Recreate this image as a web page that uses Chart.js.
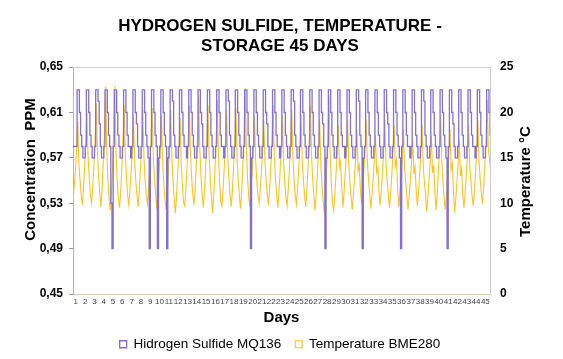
<!DOCTYPE html>
<html>
<head>
<meta charset="utf-8">
<title>Hydrogen sulfide, temperature - storage 45 days</title>
<script src="https://cdn.jsdelivr.net/npm/chart.js@4.4.1/dist/chart.umd.min.js"></script>
<style>
  html, body { margin: 0; padding: 0; background: #fff; }
  #wrap { width: 563px; height: 359px; }
</style>
</head>
<body>
<div id="wrap"><canvas id="chart"></canvas></div>
<script>
// day labels on the x axis
const days = [1,2,3,4,5,6,7,8,9,10,11,12,13,14,15,16,17,18,19,20,21,22,23,24,25,26,27,28,29,30,31,32,33,34,35,36,37,38,39,40,41,42,43,44,45];
const ppmTicks  = [0.45, 0.49, 0.53, 0.57, 0.61, 0.65];
const tempTicks = [0, 5, 10, 15, 20, 25];

// readings, 8 per day (one line = one day)
const h2s = [
  0.58,0.58,0.58,0.58,0.63,0.63,0.61,0.59,
  0.58,0.57,0.57,0.58,0.63,0.63,0.61,0.59,
  0.58,0.57,0.57,0.58,0.63,0.63,0.62,0.60,
  0.58,0.57,0.57,0.58,0.63,0.63,0.61,0.59,
  0.58,0.53,0.49,0.58,0.63,0.63,0.61,0.59,
  0.58,0.57,0.57,0.58,0.63,0.63,0.61,0.59,
  0.58,0.58,0.57,0.58,0.63,0.63,0.61,0.60,
  0.58,0.57,0.57,0.58,0.63,0.63,0.61,0.59,
  0.58,0.57,0.49,0.58,0.63,0.63,0.61,0.59,
  0.58,0.49,0.57,0.58,0.63,0.63,0.61,0.59,
  0.58,0.49,0.57,0.58,0.63,0.63,0.62,0.59,
  0.58,0.57,0.57,0.58,0.63,0.63,0.61,0.59,
  0.58,0.58,0.57,0.58,0.63,0.63,0.61,0.59,
  0.58,0.57,0.57,0.58,0.63,0.63,0.61,0.60,
  0.58,0.57,0.57,0.58,0.63,0.63,0.61,0.59,
  0.58,0.57,0.57,0.58,0.63,0.63,0.61,0.59,
  0.58,0.58,0.57,0.58,0.63,0.63,0.62,0.59,
  0.58,0.57,0.57,0.58,0.63,0.63,0.61,0.59,
  0.58,0.57,0.57,0.58,0.63,0.63,0.61,0.59,
  0.58,0.49,0.57,0.58,0.63,0.63,0.61,0.59,
  0.58,0.57,0.57,0.58,0.63,0.63,0.61,0.60,
  0.58,0.57,0.57,0.58,0.63,0.63,0.61,0.59,
  0.58,0.58,0.57,0.58,0.63,0.63,0.61,0.59,
  0.58,0.57,0.57,0.58,0.63,0.63,0.62,0.59,
  0.58,0.57,0.57,0.58,0.63,0.63,0.61,0.59,
  0.58,0.57,0.57,0.58,0.63,0.63,0.61,0.59,
  0.58,0.57,0.57,0.58,0.63,0.63,0.61,0.60,
  0.58,0.49,0.57,0.58,0.63,0.63,0.61,0.59,
  0.58,0.57,0.57,0.58,0.63,0.63,0.61,0.59,
  0.58,0.58,0.57,0.58,0.63,0.63,0.61,0.59,
  0.58,0.57,0.57,0.58,0.63,0.63,0.62,0.59,
  0.58,0.49,0.57,0.58,0.63,0.63,0.61,0.59,
  0.58,0.57,0.57,0.58,0.63,0.63,0.61,0.59,
  0.58,0.57,0.57,0.58,0.63,0.63,0.61,0.60,
  0.58,0.57,0.57,0.58,0.63,0.63,0.61,0.59,
  0.58,0.57,0.49,0.58,0.63,0.63,0.61,0.59,
  0.58,0.58,0.57,0.58,0.63,0.63,0.61,0.59,
  0.58,0.57,0.57,0.58,0.63,0.63,0.62,0.59,
  0.58,0.57,0.57,0.58,0.63,0.63,0.61,0.59,
  0.58,0.57,0.57,0.58,0.63,0.63,0.61,0.59,
  0.58,0.57,0.49,0.58,0.63,0.63,0.61,0.60,
  0.58,0.57,0.57,0.58,0.63,0.63,0.61,0.59,
  0.58,0.57,0.57,0.58,0.63,0.63,0.61,0.59,
  0.58,0.58,0.57,0.58,0.63,0.63,0.61,0.59,
  0.58,0.57,0.57,0.58,0.63,0.63,0.61,0.59
];

const temp = [
  10.2,11.8,13.5,15.8,19.0,14.5,12.6,11.0,
  9.8,11.6,14.0,16.5,20.0,15.0,12.8,10.9,
  10.0,11.9,14.2,17.0,21.0,15.8,13.0,11.2,
  9.6,11.5,14.5,17.5,22.8,16.0,12.5,10.6,
  9.2,11.0,14.0,17.8,22.9,15.5,12.4,10.5,
  9.5,11.3,13.9,16.8,20.8,15.2,12.7,10.8,
  9.8,11.5,13.6,16.0,19.6,14.6,12.4,10.9,
  9.6,11.4,13.8,16.4,20.3,15.0,12.6,10.8,
  9.9,11.7,14.0,16.6,20.5,15.1,12.8,11.0,
  9.4,11.2,13.5,16.0,19.7,14.7,12.3,10.5,
  9.3,11.1,13.6,16.3,20.3,15.0,12.4,10.4,
  8.9,10.8,13.2,15.8,19.4,14.4,12.0,10.1,
  9.7,11.5,14.0,16.9,20.8,15.4,12.8,10.9,
  9.8,11.7,14.3,17.3,21.9,16.0,13.0,11.0,
  9.5,11.3,13.9,16.8,20.8,15.3,12.6,10.7,
  8.9,10.9,13.6,16.9,21.4,15.5,12.3,10.2,
  9.7,11.5,13.9,16.5,20.3,15.0,12.7,10.9,
  9.6,11.4,13.9,16.6,20.5,15.1,12.6,10.8,
  9.4,11.3,14.2,17.6,22.7,16.2,12.8,10.7,
  9.6,11.3,13.6,16.1,19.7,14.7,12.4,10.8,
  10.0,11.6,13.6,15.9,19.2,14.5,12.5,11.0,
  9.8,11.6,14.0,16.8,20.8,15.3,12.8,11.0,
  9.5,11.2,13.5,16.0,19.7,14.6,12.3,10.6,
  9.7,11.5,13.8,16.4,20.3,15.0,12.6,10.9,
  9.9,11.6,13.8,16.2,19.7,14.8,12.6,11.0,
  9.6,11.4,13.9,16.8,20.8,15.3,12.7,10.8,
  9.2,10.9,13.2,15.7,19.2,14.3,12.0,10.3,
  8.8,10.8,13.6,16.9,21.9,15.6,12.2,10.0,
  9.2,10.8,13.0,15.3,18.6,14.0,14.6,11.8,
  9.6,11.3,13.4,15.8,19.2,14.4,12.3,10.7,
  9.3,10.9,12.9,15.0,18.1,13.6,14.2,11.5,
  10.0,11.6,13.6,15.9,19.2,14.5,12.6,11.1,
  9.4,10.9,12.8,14.8,17.5,13.4,13.9,11.2,
  9.8,11.4,13.4,15.8,19.2,14.5,12.5,10.9,
  9.5,11.1,13.1,15.4,18.6,14.1,14.8,11.6,
  9.6,11.1,13.0,15.1,18.1,13.8,12.3,10.7,
  9.3,10.8,12.6,14.5,17.0,13.2,14.0,11.3,
  9.7,11.3,13.3,15.5,18.6,14.1,12.4,10.9,
  9.1,10.6,12.5,14.6,17.5,13.3,14.2,11.2,
  9.2,11.0,13.4,16.0,19.7,14.6,12.2,10.4,
  9.3,10.9,12.9,15.0,18.1,13.7,14.4,11.4,
  9.0,10.5,12.4,14.4,17.0,13.0,13.8,11.0,
  9.5,11.1,13.1,15.4,18.6,14.1,12.4,10.8,
  9.7,11.3,13.4,15.8,19.2,14.5,12.6,11.0,
  9.9,11.8,14.2,17.0,21.4,16.0,14.8,13.5
];

const PER_DAY = 8;
const X_START = 0.7;   // first reading sits a bit before the "1" label
const X_END   = 45.5;

function toPoints(arr) {
  return arr.map(function(v, i) { return { x: X_START + i / PER_DAY, y: v }; });
}

Chart.defaults.font.family = "'Liberation Sans', Arial, sans-serif";
Chart.defaults.color = '#000';

// frame top + rotated axis titles (right one reads bottom-to-top like the original)
const decor = {
  id: 'decor',
  beforeDatasetsDraw: function(chart) {
    const a = chart.chartArea, ctx = chart.ctx;
    ctx.save();
    ctx.strokeStyle = '#cfcfcf';
    ctx.lineWidth = 1;
    ctx.beginPath();
    ctx.moveTo(a.left, a.top + 0.5);
    ctx.lineTo(a.right, a.top + 0.5);
    ctx.stroke();
    ctx.restore();
  },
  afterDraw: function(chart) {
    const a = chart.chartArea, ctx = chart.ctx;
    const midY = (a.top + a.bottom) / 2;
    ctx.save();
    ctx.fillStyle = '#000';
    ctx.font = "bold 15px 'Liberation Sans', Arial, sans-serif";
    ctx.textAlign = 'center';
    ctx.textBaseline = 'middle';

    ctx.save();
    ctx.translate(a.left - 42, midY - 11);
    ctx.rotate(-Math.PI / 2);
    ctx.fillText('Concentration  PPM', 0, 0);
    ctx.restore();

    ctx.save();
    ctx.translate(a.right + 36, midY + 1);
    ctx.rotate(-Math.PI / 2);
    ctx.fillText('Temperature °C', 0, 0);
    ctx.restore();

    ctx.restore();
  }
};

new Chart(document.getElementById('chart'), {
  type: 'line',
  data: {
    datasets: [
      {
        label: 'Hidrogen Sulfide MQ136',
        data: toPoints(h2s),
        yAxisID: 'y',
        borderColor: 'rgb(132,114,205)',
        backgroundColor: '#fff',
        borderWidth: 1.3,
        pointRadius: 0,
        stepped: 'middle',
        fill: false
      },
      {
        label: 'Temperature BME280',
        data: toPoints(temp),
        yAxisID: 'y1',
        borderColor: 'rgb(255,195,35)',
        backgroundColor: '#fff',
        borderWidth: 1.1,
        pointRadius: 0,
        tension: 0,
        fill: false
      }
    ]
  },
  options: {
    responsive: true,
    maintainAspectRatio: false,
    animation: false,
    devicePixelRatio: 1,
    layout: { padding: { left: 0, right: 3, top: 0, bottom: -2 } },
    plugins: {
      tooltip: { enabled: false },
      title: {
        display: true,
        text: ['HYDROGEN SULFIDE, TEMPERATURE -', 'STORAGE 45 DAYS'],
        font: { size: 17, weight: 'bold', lineHeight: 1.15 },
        color: '#000',
        padding: { top: 17, bottom: 11 }
      },
      legend: {
        position: 'bottom',
        labels: {
          boxWidth: 7,
          boxHeight: 7,
          padding: 14,
          color: '#000',
          font: { size: 13.5 },
          sort: function(a, b) { return a.datasetIndex - b.datasetIndex; }
        }
      }
    },
    scales: {
      x: {
        type: 'linear',
        min: X_START,
        max: X_END,
        afterBuildTicks: function(scale) { scale.ticks = days.map(function(d) { return { value: d }; }); },
        afterFit: function(scale) { scale.height = 29.5; },
        ticks: {
          autoSkip: false,
          maxRotation: 0,
          minRotation: 0,
          padding: 3,
          color: '#444',
          font: { size: 8 },
          callback: function(v) { return String(v); }
        },
        grid: { display: false, drawTicks: false },
        border: { display: true, color: '#d8d1b8' },
        title: {
          display: true,
          text: 'Days',
          font: { size: 15, weight: 'bold' },
          color: '#000',
          padding: { top: 0, bottom: -3.5 }
        }
      },
      y: {
        position: 'left',
        min: 0.45,
        max: 0.65,
        afterBuildTicks: function(scale) { scale.ticks = ppmTicks.map(function(v) { return { value: v }; }); },
        afterFit: function(scale) { scale.width = 73; },
        ticks: {
          padding: 6,
          color: '#000',
          font: { size: 12, weight: 'bold' },
          callback: function(v) { return v.toFixed(2).replace('.', ','); }
        },
        grid: { display: true, drawOnChartArea: false, drawTicks: true, tickLength: 4, color: '#9a9a9a' },
        border: { display: true, color: '#b5b5b5' }
      },
      y1: {
        position: 'right',
        min: 0,
        max: 25,
        afterBuildTicks: function(scale) { scale.ticks = tempTicks.map(function(v) { return { value: v }; }); },
        afterFit: function(scale) { scale.width = 70; },
        ticks: {
          padding: 10,
          color: '#000',
          font: { size: 12, weight: 'bold' }
        },
        grid: { display: false, drawTicks: false },
        border: { display: true, color: '#cfcfcf' }
      }
    }
  },
  plugins: [decor]
});
</script>
</body>
</html>
